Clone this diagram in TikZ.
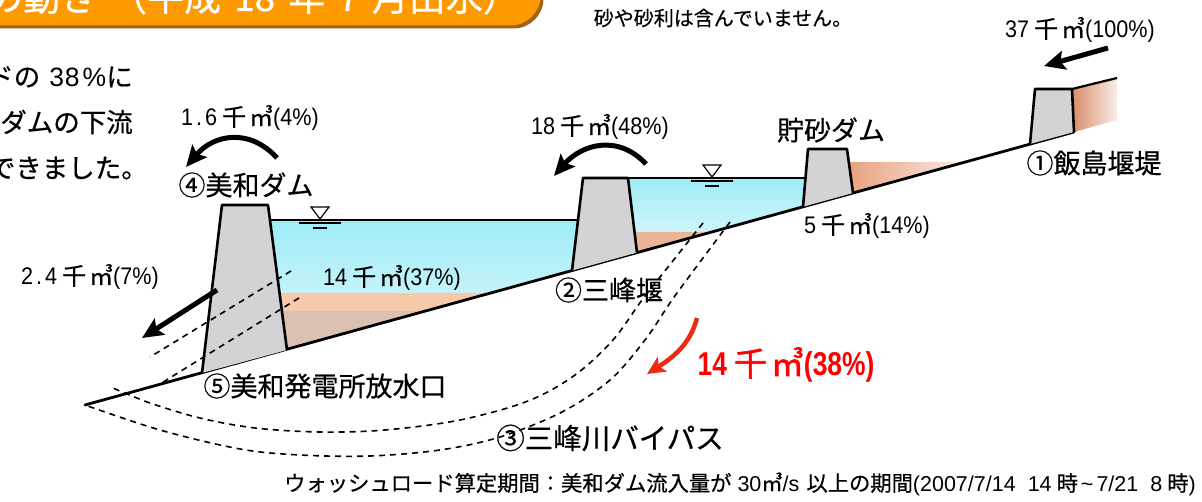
\documentclass[tikz,border=0pt]{standalone}
\usepackage{fontspec}
\usetikzlibrary{arrows.meta}
\newfontfamily\jp[FakeBold=0.5]{Noto Sans CJK JP}
\newfontfamily\jpb[FakeBold=1.8]{Noto Sans CJK JP}
\newfontfamily\nar[FakeStretch=0.9]{Liberation Sans}
\newfontfamily\sans{Liberation Sans}
\newfontfamily\narb[FakeStretch=0.80]{Liberation Sans Bold}

\definecolor{damgray}{RGB}{211,211,213}
\definecolor{waterTop}{RGB}{158,236,247}
\definecolor{waterBot}{RGB}{226,248,252}
\definecolor{sedPeach}{RGB}{246,201,170}
\definecolor{sedLow}{RGB}{218,193,177}
\definecolor{sedMid}{RGB}{236,180,150}
\definecolor{sedTrap}{RGB}{232,160,128}
\definecolor{sedTop}{RGB}{216,136,100}
\definecolor{bannerFill}{RGB}{255,153,0}
\definecolor{bannerEdge}{RGB}{160,100,20}
\definecolor{flowRed}{RGB}{238,42,18}
\definecolor{textRed}{RGB}{255,0,0}

% amount label: number, 千, m^3, (percent)
\newcommand\vol[2]{{\nar #1}\hspace{5pt}{\jp 千}\hspace{3pt}{\jp ㎥}{\nar (#2\%)}}
% latin pieces of the footnote
\newcommand\fn[1]{{\fontsize{21.5}{21.5}\selectfont\sans #1}}

\begin{document}
\begin{tikzpicture}[x=1pt,y=-1pt,
  dam/.style={fill=damgray,draw=black,line width=2.6pt,line join=round},
  ground/.style={line width=2.8pt,line cap=round},
  surface/.style={line width=1.3pt},
  seep/.style={line width=1.6pt,dash pattern=on 6pt off 5pt},
  flow/.style={line width=5pt,-{Stealth[length=21pt,width=19pt,inset=4pt]}},
  redflow/.style={line width=4.5pt,draw=flowRed,-{Stealth[length=18pt,width=17pt,inset=4pt]}},
  lab/.style={inner sep=0pt,font=\jp\fontsize{27}{27}\selectfont},
  side/.style={inner sep=0pt,anchor=east,font=\jp\fontsize{26.5}{26.5}\selectfont},
  amount/.style={inner sep=0pt,font=\fontsize{24}{24}\selectfont},
  wl/.pic={
    \draw[line width=1.2pt,fill=white] (-9,-12) -- (9,-12) -- (0,0) -- cycle;
    \draw[line width=1.2pt] (-21,4) -- (21,4);
    \draw[line width=1.2pt] (-7,9) -- (7,9);
  }]
\useasboundingbox (0,0) rectangle (1202,502);
\fill[white] (0,0) rectangle (1202,502);

% heading banner
\fill[bannerEdge,rounded corners=30pt] (-40,-60) rectangle (543.5,28.5);
\fill[bannerFill,rounded corners=30pt] (-40,-60) rectangle (540.5,25.5);
\node[anchor=base west,inner sep=0pt,text=white,font=\jp\fontsize{37}{37}\selectfont]
  (title) at (-14,11) {の動き\hspace{13pt}（平成\hspace{13pt}18\hspace{13pt}年\hspace{13pt}7\hspace{13pt}月出水）};
\node[inner sep=0pt,font=\jp\fontsize{20}{20}\selectfont] (note) at (723,18) {砂や砂利は含んでいません。};

% side text
\node[side] (p1) at (133,77) {ドの\hspace{9pt}{\sans 3\kern1pt8\kern3pt\%}に};
\node[side] (p2) at (133,122) {ダムの下流};
\node[side] (p3) at (148,168) {できました。};

% reservoir of dam 4
\shade[top color=waterTop,bottom color=waterBot] (262,220) -- (578,220) -- (572,270.6) -- (287,349.2) -- (262,349) -- cycle;
\fill[sedPeach] (262,293) -- (490.8,293) -- (287,349.2) -- (262,349) -- cycle;
\fill[sedLow] (262,311) -- (425.6,311) -- (287,349.2) -- (262,349) -- cycle;
% reservoir of weir 2
\shade[top color=waterTop,bottom color=waterBot] (620,178) -- (806,178) -- (803,206.8) -- (637,252.6) -- (620,253) -- cycle;
\fill[sedMid] (630,232) -- (711.8,232) -- (637,252.6) -- (630,253) -- cycle;
% sediment behind the check dam and weir 1
\shade[left color=sedTrap,right color=sedTrap!20] (848,162) -- (965,162) -- (853,193) -- (848,193) -- cycle;
\shade[left color=sedTop,right color=sedTop!15] (1070,89) -- (1117,78) -- (1117,120) -- (1074,132) -- cycle;
\draw[line width=2.2pt] (1072,89) -- (1117,78);

% river bed
\coordinate (G0) at (85,405);
\coordinate (G1) at (1074,132);
\draw[ground] (G0) -- (G1);

% water surfaces
\draw[surface] (270,220) -- (578,220);
\draw[surface] (628,178) -- (806,178);
\pic at (320,219) {wl};
\pic at (712,177) {wl};

% dams
\draw[dam] (202,373) -- (222,205) -- (268,205) -- (287,350);
\draw[dam] (572,270.6) -- (583,178) -- (628,178) -- (637,252.6);
\draw[dam] (803,206.8) -- (808,149) -- (847,149) -- (853,193);
\draw[dam] (1030,144) -- (1035,89) -- (1072,89) -- (1074,132);

% outlet paths and bypass tunnel
\draw[seep] (291,271) -- (150,357);
\draw[seep] (299,298) -- (160,384);
\draw[seep] plot[smooth,tension=0.55] coordinates {(703,223) (672,262) (642,300) (613,340) (575,375) (528,401) (460,420) (385,430) (320,432) (255,428) (200,418) (150,403) (113,388)};
\draw[seep] plot[smooth,tension=0.55] coordinates {(730,222) (700,262) (672,300) (645,340) (610,380) (562,412) (500,437) (440,450) (370,456) (300,455) (240,449) (160,430) (85,405)};

% flows
\coordinate (f37a) at (1108,48);  \coordinate (f37b) at (1044,66);
\coordinate (f16a) at (277,158);  \coordinate (f16b) at (186,167);
\coordinate (f18a) at (646,164);  \coordinate (f18b) at (554,176);
\coordinate (f24a) at (217,290);  \coordinate (f24b) at (142,338);
\coordinate (f14a) at (697,318);  \coordinate (f14b) at (647,374);
\draw[flow] (f37a) -- (f37b);
\draw[flow] (f16a) .. controls (250,128) and (214,134) .. (f16b);
\draw[flow] (f18a) .. controls (618,134) and (582,144) .. (f18b);
\draw[flow] (f24a) -- (f24b);
\draw[redflow] (f14a) .. controls (690,345) and (672,358) .. (f14b);

% amounts
\node[amount] (v37) at (1080,30) {\vol{37}{100}};
\node[amount] (v16) at (250,118) {\vol{1\kern3pt.\kern3pt6}{4}};
\node[amount] (v18) at (600,127) {\vol{18}{48}};
\node[amount] (v5)  at (867,226) {\vol{5}{14}};
\node[amount] (v24) at (90,277) {\vol{2\kern3pt.\kern3pt4}{7}};
\node[amount] (v14) at (392,278) {\vol{14}{37}};
\node[inner sep=0pt,text=textRed,font=\fontsize{33}{33}\selectfont] (v14r) at (786,365)
  {{\narb 14}\hspace{7pt}{\jpb 千}\hspace{4pt}{\jpb ㎥}{\narb (38\%)}};

% facility names
\node[lab] (n1) at (1094,163) {①飯島堰堤};
\node[lab] (n2) at (609,290) {②三峰堰};
\node[lab,font=\jp\fontsize{28.5}{28.5}\selectfont] (n3) at (610,438) {③三峰川バイパス};
\node[lab] (n4) at (246,185) {④美和ダム};
\node[lab] (n5) at (325,386) {⑤美和発電所放水口};
\node[lab] (nt) at (831,130) {貯砂ダム};

% footnote
\node[inner sep=0pt,anchor=east,font=\jp\fontsize{21.3}{22}\selectfont] (foot) at (1196,484)
  {ウォッシュロード算定期間：美和ダム流入量が\hspace{6pt}\fn{30}㎥\fn{/s}\hspace{7pt}以上の期間\fn{(2007/7/14\hspace{12pt}14}\hspace{5pt}時\hspace{3pt}\fn{\char"7E}\hspace{3pt}\fn{7/21\hspace{12pt}8}\hspace{5pt}時\fn{)}};
\end{tikzpicture}
\end{document}
